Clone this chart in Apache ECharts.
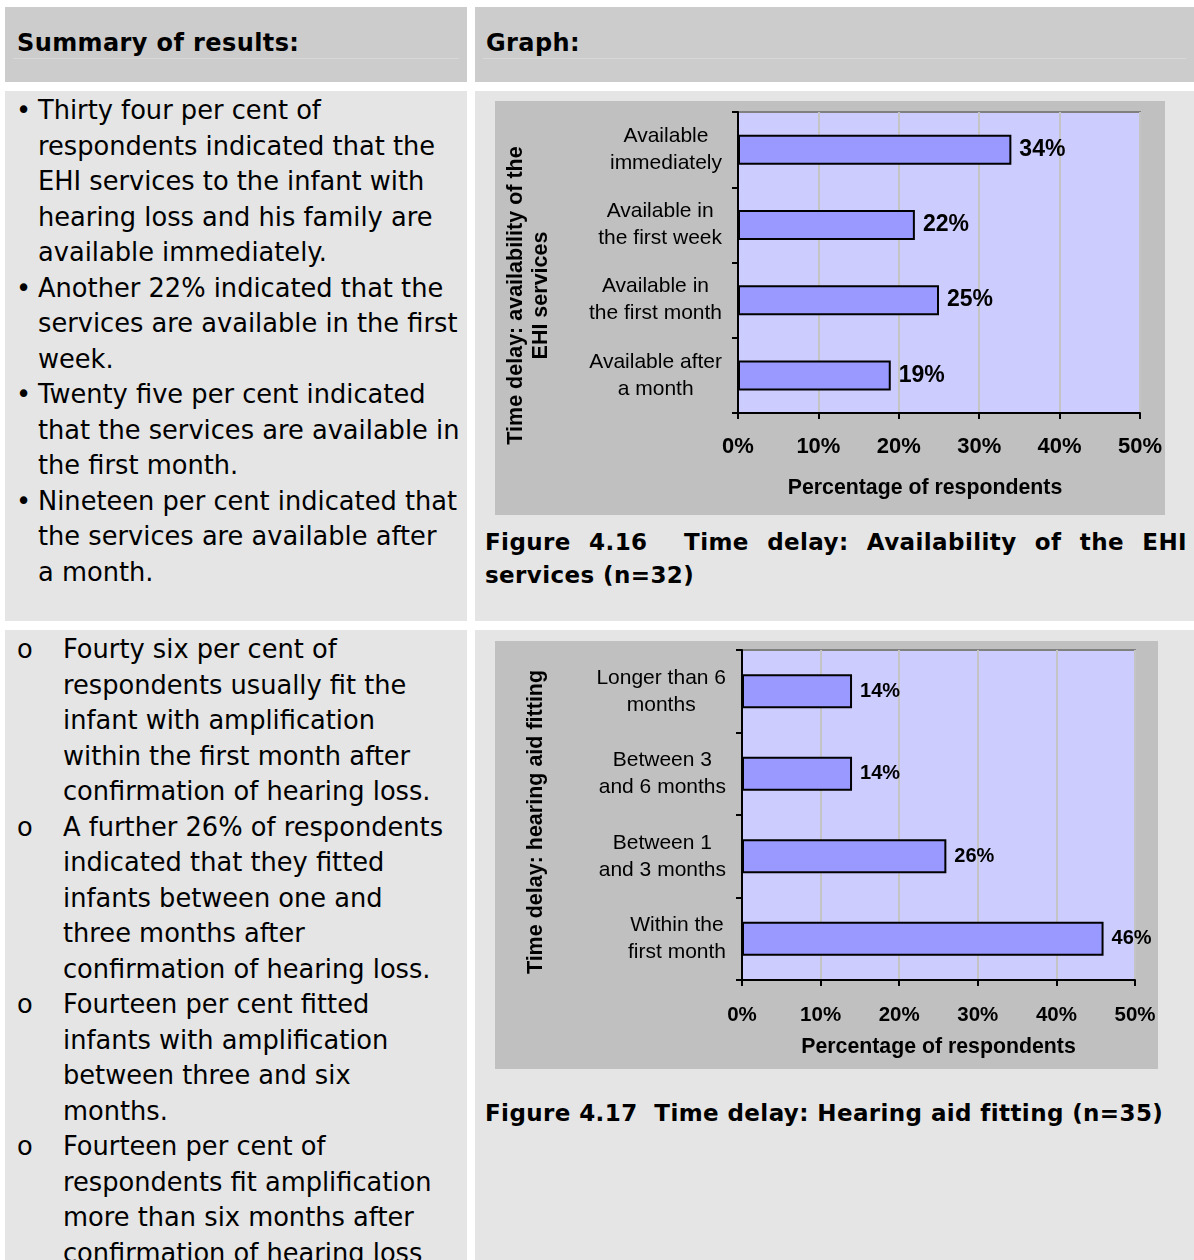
<!DOCTYPE html>
<html>
<head>
<meta charset="utf-8">
<script src="https://cdn.jsdelivr.net/npm/echarts@6/dist/echarts.min.js"></script>
<style>
html, body { margin: 0; padding: 0; background: #fff; width: 1194px; height: 1260px; overflow: hidden; }
.cell { position: absolute; box-sizing: border-box; }
.head { background: #cccccc; top: 7px; height: 75px; }
.body { background: #e5e5e5; }
.l { left: 5px; width: 462px; }
.r { left: 475px; width: 719px; }
.htxt { position: absolute; top: 22px; line-height: 30px; font: bold 24px 'DejaVu Sans', sans-serif; letter-spacing: 0.4px; color: #000; white-space: nowrap; }
.hline { position: absolute; top: 51px; left: 8px; right: 8px; height: 1px; background: #d8d8d8; }
.list { position: absolute; font: 25.7px 'DejaVu Sans', sans-serif; line-height: 35.5px; color: #000; white-space: nowrap; }
.item { position: relative; }
.mark { position: absolute; }
.chart { position: absolute; }
.cap { position: absolute; left: 10px; width: 702px; font: bold 23px 'DejaVu Sans', sans-serif; letter-spacing: 0.4px; line-height: 33px; color: #000; white-space: nowrap; }
.just { text-align: justify; text-align-last: justify; white-space: normal; }
</style>
</head>
<body>

<div class="cell head l"><div class="htxt" style="left:12px">Summary of results:</div><div class="hline"></div></div>
<div class="cell head r"><div class="htxt" style="left:11px">Graph:</div><div class="hline"></div></div>

<div class="cell body l" style="top:91px;height:530px">
  <div class="list" style="top:2px;left:0">
    <div class="item" style="padding-left:33px"><span class="mark" style="left:11px">•</span>Thirty four per cent of<br>respondents indicated that the<br>EHI services to the infant with<br>hearing loss and his family are<br>available immediately.</div>
    <div class="item" style="padding-left:33px"><span class="mark" style="left:11px">•</span>Another 22% indicated that the<br>services are available in the first<br>week.</div>
    <div class="item" style="padding-left:33px"><span class="mark" style="left:11px">•</span>Twenty five per cent indicated<br>that the services are available in<br>the first month.</div>
    <div class="item" style="padding-left:33px"><span class="mark" style="left:11px">•</span>Nineteen per cent indicated that<br>the services are available after<br>a month.</div>
  </div>
</div>

<div class="cell body r" style="top:91px;height:530px">
  <div id="chart1" class="chart" style="left:20px;top:10px;width:670px;height:414px"></div>
  <div class="cap" style="top:435px">
    <div class="just">Figure 4.16&nbsp; Time delay: Availability of the EHI</div>
    <div>services (n=32)</div>
  </div>
</div>

<div class="cell body l" style="top:630px;height:630px">
  <div class="list" style="top:2px;left:0">
    <div class="item" style="padding-left:58px"><span class="mark" style="left:12px">o</span>Fourty six per cent of<br>respondents usually fit the<br>infant with amplification<br>within the first month after<br>confirmation of hearing loss.</div>
    <div class="item" style="padding-left:58px"><span class="mark" style="left:12px">o</span>A further 26% of respondents<br>indicated that they fitted<br>infants between one and<br>three months after<br>confirmation of hearing loss.</div>
    <div class="item" style="padding-left:58px"><span class="mark" style="left:12px">o</span>Fourteen per cent fitted<br>infants with amplification<br>between three and six<br>months.</div>
    <div class="item" style="padding-left:58px"><span class="mark" style="left:12px">o</span>Fourteen per cent of<br>respondents fit amplification<br>more than six months after<br>confirmation of hearing loss</div>
  </div>
</div>

<div class="cell body r" style="top:630px;height:630px">
  <div id="chart2" class="chart" style="left:20px;top:11px;width:663px;height:428px"></div>
  <div class="cap" style="top:467px">Figure 4.17&nbsp; Time delay: Hearing aid fitting (n=35)</div>
</div>

<script>
// data
const availCats = ['Available\nimmediately', 'Available in\nthe first week', 'Available in\nthe first month', 'Available after\na month'];
const availValues = [34, 22, 25, 19];
const fittingCats = ['Longer than 6\nmonths', 'Between 3\nand 6 months', 'Between 1\nand 3 months', 'Within the\nfirst month'];
const fittingValues = [14, 14, 26, 46];
const pctMin = 0;
const pctMax = 50;
const pctStep = 10;

const FONT = "'Liberation Sans', Arial, sans-serif";

const buildOption = (cats, values, cfg) => ({
  backgroundColor: '#c0c0c0',
  animation: false,
  grid: {
    left: cfg.grid[0], right: cfg.grid[1], top: cfg.grid[2], bottom: cfg.grid[3],
    containLabel: false,
    outerBoundsMode: 'none',
    show: true,
    backgroundColor: '#ccccff',
    borderColor: '#808080',
    borderWidth: 2
  },
  xAxis: {
    type: 'value',
    min: pctMin,
    max: pctMax,
    interval: pctStep,
    axisLine: { show: true, lineStyle: { color: '#000', width: 2 } },
    axisTick: { show: true, length: 6, lineStyle: { color: '#000', width: 2 } },
    axisLabel: {
      formatter: '{value}%',
      color: '#000',
      fontFamily: FONT,
      fontWeight: 'bold',
      fontSize: cfg.tickSize,
      margin: cfg.tickMargin
    },
    splitLine: { show: true, lineStyle: { color: '#c4c4c4', width: 2 } },
    name: 'Percentage of respondents',
    nameLocation: 'middle',
    nameGap: cfg.xNameGap,
    nameTextStyle: { color: '#000', fontFamily: FONT, fontWeight: 'bold', fontSize: 21.3, padding: cfg.xNamePad }
  },
  yAxis: {
    type: 'category',
    inverse: true,
    data: cats,
    axisLine: { show: true, lineStyle: { color: '#000', width: 2 } },
    axisTick: { show: true, length: 6, lineStyle: { color: '#000', width: 2 } },
    axisLabel: {
      align: 'right',
      margin: 16,
      formatter: (v) => v.split('\n').map((s) => '{c|' + s + '}').join('\n'),
      rich: { c: { align: 'center', color: '#000', fontFamily: FONT, fontSize: cfg.catSize, lineHeight: 27 } }
    },
    name: cfg.yName,
    nameLocation: 'middle',
    nameRotate: 90,
    nameGap: cfg.yNameGap,
    nameTextStyle: { color: '#000', fontFamily: FONT, fontWeight: 'bold', fontSize: 21.5, lineHeight: 25, padding: cfg.yNamePad }
  },
  series: [
    {
      type: 'bar',
      data: values,
      barWidth: cfg.barWidth,
      itemStyle: { color: '#9999ff', borderColor: '#000', borderWidth: 2 },
      label: {
        show: true,
        position: 'right',
        distance: 8,
        formatter: '{c}%',
        color: '#000',
        fontFamily: FONT,
        fontWeight: 'bold',
        fontSize: cfg.labelSize
      }
    }
  ]
})

const chart1 = echarts.init(document.getElementById('chart1'))
chart1.setOption(buildOption(availCats, availValues, {
  grid: [243, 25, 11, 102],
  tickSize: 22, tickMargin: 23, catSize: 21, labelSize: 23, barWidth: 30,
  xNameGap: 65, xNamePad: [0, 28, 0, 0],
  yName: 'Time delay: availability of the\nEHI services', yNameGap: 184, yNamePad: [0, 66, 0, 0]
}))

const chart2 = echarts.init(document.getElementById('chart2'))
chart2.setOption(buildOption(fittingCats, fittingValues, {
  grid: [247, 23, 9, 89],
  tickSize: 20.5, tickMargin: 25, catSize: 21, labelSize: 20, barWidth: 34,
  xNameGap: 57, xNamePad: [0, 0, 0, 0],
  yName: 'Time delay: hearing aid fitting', yNameGap: 193, yNamePad: [0, 14, 0, 0]
}))
</script>
</body>
</html>
